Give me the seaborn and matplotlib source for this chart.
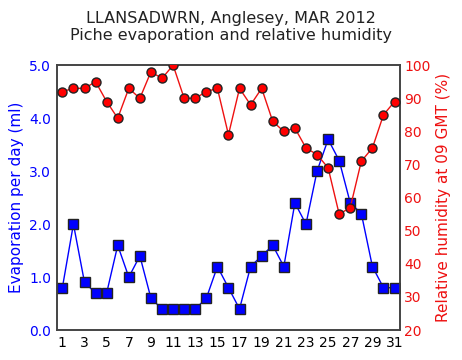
"""Piche evaporation and relative humidity, Llansadwrn, March 2012."""
import matplotlib
matplotlib.use("Agg")
import matplotlib.pyplot as plt
import seaborn as sns
import pandas as pd

days = list(range(1, 32))
evaporation = [0.8, 2.0, 0.9, 0.7, 0.7, 1.6, 1.0, 1.4, 0.6, 0.4,
               0.4, 0.4, 0.4, 0.6, 1.2, 0.8, 0.4, 1.2, 1.4, 1.6,
               1.2, 2.4, 2.0, 3.0, 3.6, 3.2, 2.4, 2.2, 1.2, 0.8, 0.8]
humidity = [92, 93, 93, 95, 89, 84, 93, 90, 98, 96,
            100, 90, 90, 92, 93, 79, 93, 88, 93, 83,
            80, 81, 75, 73, 69, 55, 57, 71, 75, 85, 89]
x_ticks = list(range(1, 32, 2))

df = pd.DataFrame({"day": days, "evap": evaporation, "rh": humidity})

sns.set_style("white")
plt.rcParams["font.family"] = ["DejaVu Sans"]

fig = plt.figure(figsize=(4.62, 3.6), dpi=100)
ax = fig.add_axes([0.123, 0.083, 0.743, 0.736])
ax2 = ax.twinx()

sns.lineplot(data=df, x="day", y="evap", ax=ax, color="#0000ff", lw=1,
             marker="s", markersize=7, markerfacecolor="#0000ff",
             markeredgecolor="#222222", markeredgewidth=1, zorder=3)
sns.lineplot(data=df, x="day", y="rh", ax=ax2, color="#ee1111", lw=1,
             marker="o", markersize=6.5, markerfacecolor="#ff0000",
             markeredgecolor="#222222", markeredgewidth=1, zorder=3)

ax.set_xlim(0.5, 31.5)
ax.set_ylim(0, 5)
ax2.set_ylim(20, 100)
ax.set_xticks(x_ticks)
ax.set_yticks([0, 1, 2, 3, 4, 5])
ax.set_yticklabels([f"{v:.1f}" for v in [0, 1, 2, 3, 4, 5]])
ax2.set_yticks(range(20, 101, 10))

ax.tick_params(axis="x", colors="black", labelsize=10, length=0, pad=4)
ax.tick_params(axis="y", colors="#0000ff", labelsize=10, length=0, pad=4)
ax2.tick_params(axis="y", colors="#ee1111", labelsize=10, length=0, pad=3)

ax.set_xlabel("")
ax.set_ylabel("Evaporation per day (ml)", color="#0000ff", fontsize=11)
ax2.set_ylabel("Relative humidity at 09 GMT (%)", color="#ee1111", fontsize=11)

for a in (ax, ax2):
    for s in a.spines.values():
        s.set_color("#444444")
        s.set_linewidth(1.2)

fig.suptitle("LLANSADWRN, Anglesey, MAR 2012\nPiche evaporation and relative humidity",
             y=0.97, fontsize=11.5, color="#222222", linespacing=1.2)

fig.savefig("out.png", dpi=100)
